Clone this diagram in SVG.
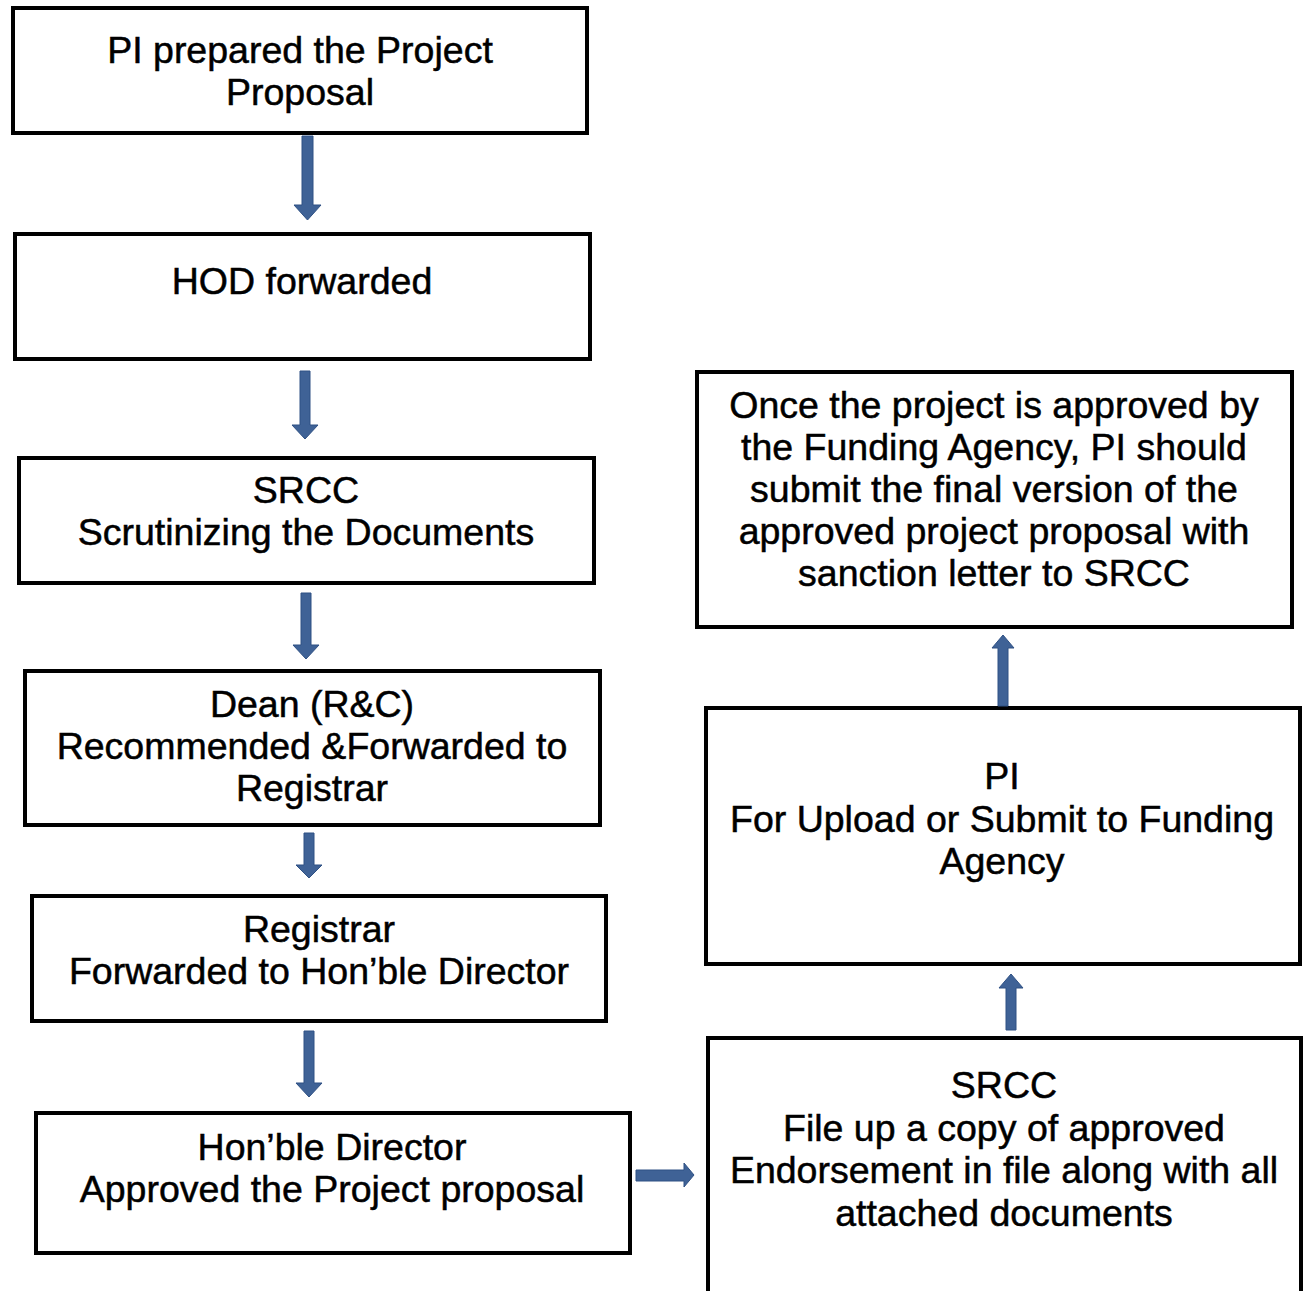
<svg xmlns="http://www.w3.org/2000/svg" width="1304" height="1291" viewBox="0 0 1304 1291">
  <style>
    .box { fill: #ffffff; stroke: #000000; stroke-width: 4; }
    .lbl { font-family: "Liberation Sans", Arial, sans-serif; font-size: 37.5px; fill: #000000; stroke: #000000; stroke-width: 0.5; text-anchor: middle; }
    .arrow { fill: #3f6296; stroke: #2f5184; stroke-width: 1; }
  </style>
  <rect width="1304" height="1291" fill="#ffffff"/>

  <g id="n1">
    <rect class="box" x="13" y="8" width="574" height="125"/>
    <text class="lbl" x="300" y="63">PI prepared the Project</text>
    <text class="lbl" x="300" y="105">Proposal</text>
  </g>

  <g id="n2">
    <rect class="box" x="15" y="234" width="575" height="125"/>
    <text class="lbl" x="302" y="294">HOD forwarded</text>
  </g>

  <g id="n3">
    <rect class="box" x="19" y="458" width="575" height="125"/>
    <text class="lbl" x="306" y="503">SRCC</text>
    <text class="lbl" x="306" y="545">Scrutinizing the Documents</text>
  </g>

  <g id="n4">
    <rect class="box" x="25" y="671" width="575" height="154"/>
    <text class="lbl" x="312" y="717">Dean (R&amp;C)</text>
    <text class="lbl" x="312" y="759">Recommended &amp;Forwarded to</text>
    <text class="lbl" x="312" y="801">Registrar</text>
  </g>

  <g id="n5">
    <rect class="box" x="32" y="896" width="574" height="125"/>
    <text class="lbl" x="319" y="942">Registrar</text>
    <text class="lbl" x="319" y="984">Forwarded to Hon’ble Director</text>
  </g>

  <g id="n6">
    <rect class="box" x="36" y="1113" width="594" height="140"/>
    <text class="lbl" x="332" y="1160">Hon’ble Director</text>
    <text class="lbl" x="332" y="1202">Approved the Project proposal</text>
  </g>

  <g id="n7">
    <rect class="box" x="708" y="1038" width="593" height="270"/>
    <text class="lbl" x="1004" y="1098">SRCC</text>
    <text class="lbl" x="1004" y="1141">File up a copy of approved</text>
    <text class="lbl" x="1004" y="1183">Endorsement in file along with all</text>
    <text class="lbl" x="1004" y="1226">attached documents</text>
  </g>

  <g id="n8">
    <rect class="box" x="706" y="708" width="594" height="256"/>
    <text class="lbl" x="1002" y="789">PI</text>
    <text class="lbl" x="1002" y="832">For Upload or Submit to Funding</text>
    <text class="lbl" x="1002" y="874">Agency</text>
  </g>

  <g id="n9">
    <rect class="box" x="697" y="372" width="595" height="255"/>
    <text class="lbl" x="994" y="418">Once the project is approved by</text>
    <text class="lbl" x="994" y="460">the Funding Agency, PI should</text>
    <text class="lbl" x="994" y="502">submit the final version of the</text>
    <text class="lbl" x="994" y="544">approved project proposal with</text>
    <text class="lbl" x="994" y="586">sanction letter to SRCC</text>
  </g>

  <g id="connectors">
    <!-- down arrows on the left column -->
    <path class="arrow" d="M302 136 H313 V205 H321 L307.5 220 L294 205 H302 Z"/>
    <path class="arrow" d="M300 371 H310 V425 H318 L305 439 L292 425 H300 Z"/>
    <path class="arrow" d="M301 593 H311 V645 H319 L306 659 L293 645 H301 Z"/>
    <path class="arrow" d="M304 833 H314 V865 H322 L309 878 L296 865 H304 Z"/>
    <path class="arrow" d="M304 1031 H314 V1083 H322 L309 1097 L296 1083 H304 Z"/>
    <!-- across to the right column -->
    <path class="arrow" d="M636 1170 H684 V1163 L694 1175 L684 1187 V1181 H636 Z"/>
    <!-- up arrows on the right column -->
    <path class="arrow" d="M1006 1030 H1016 V988 H1023 L1011 974 L999 988 H1006 Z"/>
    <path class="arrow" d="M998 706 H1008 V648 H1014 L1003 635 L992 648 H998 Z"/>
  </g>
</svg>
